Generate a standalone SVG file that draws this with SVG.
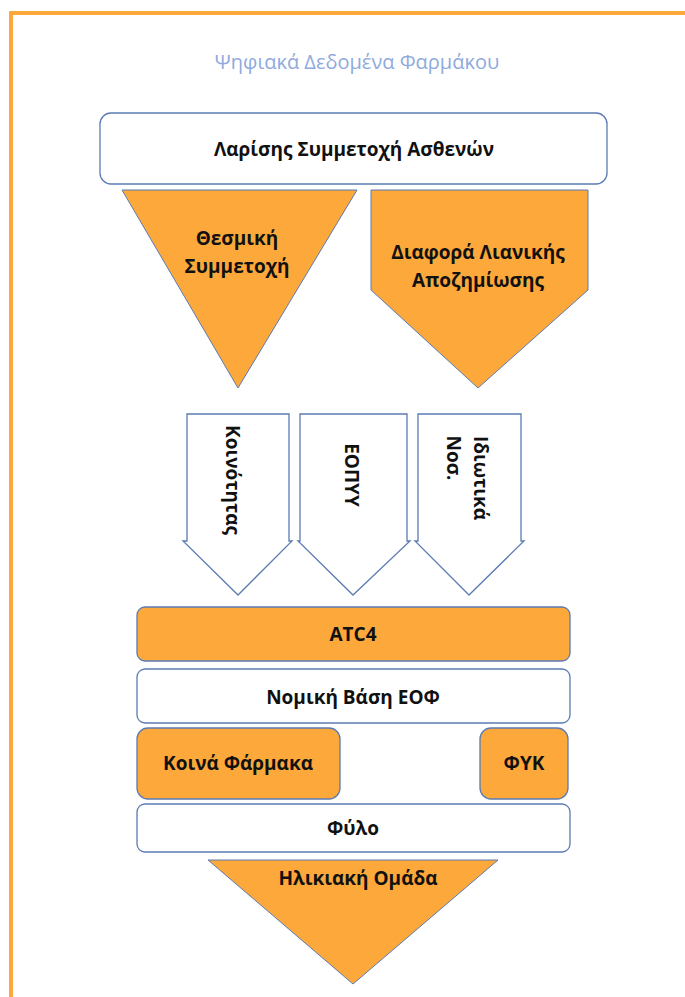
<svg xmlns="http://www.w3.org/2000/svg" width="685" height="997" viewBox="0 0 685 997">
  <style>
    .frame { fill: none; stroke: #FDA83B; stroke-width: 4; }
    .box { fill: #ffffff; stroke: #5B7BB3; stroke-width: 1.3; }
    .obox { fill: #FDA83B; stroke: #5B7BB3; stroke-width: 1.3; }
    .ofill { fill: #FDA83B; stroke: #5B7BB3; stroke-width: 1; }
    .arrow { fill: #ffffff; stroke: #5B7BB3; stroke-width: 1.3; }
    .lbl { font-family: "Open Sans", "Noto Sans", "DejaVu Sans", sans-serif; font-weight: bold; font-size: 19px; fill: #111111; text-anchor: middle; dominant-baseline: central; }
    .title { font-family: "Open Sans", "Noto Sans", sans-serif; font-size: 20px; fill: #8FAADC; text-anchor: middle; dominant-baseline: central; }
  </style>

  <rect width="685" height="997" fill="#ffffff"/>
  <!-- page frame -->
  <rect class="frame" x="11" y="13" width="700" height="1000"/>

  <text class="title" x="357" y="61">Ψηφιακά Δεδομένα Φαρμάκου</text>

  <g id="participation">
    <rect class="box" x="100" y="113" width="507" height="71" rx="11"/>
    <text class="lbl" x="354" y="149">Λαρίσης Συμμετοχή Ασθενών</text>
  </g>

  <g id="institutional">
    <polygon class="ofill" points="122,190 357,190 238,388"/>
    <text class="lbl" x="237" y="238">Θεσμική</text>
    <text class="lbl" x="237" y="266">Συμμετοχή</text>
  </g>

  <g id="retail-difference">
    <polygon class="ofill" points="371,190 588,190 588,290 478,388 371,290"/>
    <text class="lbl" x="478" y="252">Διαφορά Λιανικής</text>
    <text class="lbl" x="478" y="280">Αποζημίωσης</text>
  </g>

  <g id="arrows">
    <g id="community">
      <polygon class="arrow" points="187,414 289,414 289,541 292,541 238,595 183,541 187,541"/>
      <text class="lbl" transform="translate(233,480) rotate(90)">Κοινότητας</text>
    </g>
    <g id="eopyy">
      <polygon class="arrow" points="300,414 407,414 407,541 410,541 353,595 298,541 300,541"/>
      <text class="lbl" transform="translate(352,475) rotate(90)">ΕΟΠΥΥ</text>
    </g>
    <g id="private-hosp">
      <polygon class="arrow" points="418,414 521,414 521,541 524,541 469,595 415,541 418,541"/>
      <text class="lbl" transform="translate(481,478) rotate(90)">Ιδιωτικά</text>
      <text class="lbl" transform="translate(454,458) rotate(90)">Νοσ.</text>
    </g>
  </g>

  <g id="atc4">
    <rect class="obox" x="137" y="607" width="433" height="54" rx="8"/>
    <text class="lbl" x="353" y="634">ATC4</text>
  </g>

  <g id="legal-basis">
    <rect class="box" x="137" y="669" width="433" height="54" rx="8"/>
    <text class="lbl" x="353" y="697">Νομική Βάση ΕΟΦ</text>
  </g>

  <g id="common-drugs">
    <rect class="obox" x="137" y="728" width="203" height="71" rx="11"/>
    <text class="lbl" x="238" y="763">Κοινά Φάρμακα</text>
  </g>

  <g id="fyk">
    <rect class="obox" x="480" y="728" width="88" height="71" rx="11"/>
    <text class="lbl" x="524" y="763">ΦΥΚ</text>
  </g>

  <g id="sex">
    <rect class="box" x="137" y="804" width="433" height="48" rx="8"/>
    <text class="lbl" x="353" y="828">Φύλο</text>
  </g>

  <g id="age-group">
    <polygon class="ofill" points="208,860 498,860 353,984"/>
    <text class="lbl" x="358" y="878">Ηλικιακή Ομάδα</text>
  </g>
</svg>
